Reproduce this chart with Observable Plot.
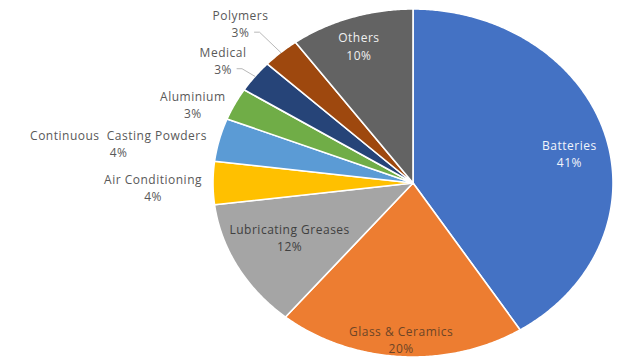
<!DOCTYPE html>
<html>
<head>
<meta charset="utf-8">
<script src="https://cdn.jsdelivr.net/npm/d3@7"></script>
<script src="https://cdn.jsdelivr.net/npm/@observablehq/plot@0.6"></script>
<style>
  html, body { margin: 0; padding: 0; background: #fff; }
  #chart svg { display: block; }
  #chart text { letter-spacing: 0.5px; }
</style>
</head>
<body>
<div id="chart"></div>
<script>
// ---- data ----
const categories = ["Batteries", "Glass & Ceramics", "Lubricating Greases", "Air Conditioning",
  "Continuous  Casting Powders", "Aluminium", "Medical", "Polymers", "Others"];
const shares = [41, 20, 12, 4, 4, 3, 3, 3, 10];
const shareLabels = ["41%", "20%", "12%", "4%", "4%", "3%", "3%", "3%", "10%"];

// ---- style / layout ----
const colors = ["#4472C4", "#ED7D31", "#A5A5A5", "#FFC000", "#5B9BD5", "#70AD47", "#264478", "#9E480E", "#636363"];
const labelColors = ["#f2f5fb", "#6e4526", "#404040", "#595959", "#595959", "#595959", "#595959", "#595959", "#f0f0f0"];
const labelRadius = [0.80, 0.90, 0.69, 1.30, 1.49, 1.19, 1.185, 1.26, 0.835];
const labelShift = [1.1, 0.05, 0.6, -0.3, -1.55, -1.3, -0.3, -0.5, -0.25]; // in percent of the circle
const hasLeader = [false, false, false, false, false, false, true, true, false];

const total = d3.sum(shares);
const TAU = 2 * Math.PI;
const pt = (frac, r) => ({x: r * Math.sin(frac * TAU), y: r * Math.cos(frac * TAU)});

let cum = 0;
const slices = shares.map((v, i) => {
  const a0 = cum / total, a1 = (cum + v) / total;
  cum += v;
  const n = Math.max(2, Math.ceil((a1 - a0) * 720));
  const pts = [{x: 0, y: 0}];
  for (let k = 0; k <= n; k++) pts.push(pt(a0 + (a1 - a0) * k / n, 1));
  pts.push({x: 0, y: 0});
  const mid = (a0 + a1) / 2;
  const lp = pt(mid + labelShift[i] / 100, labelRadius[i]);
  return {i, a0, a1, mid, pts, label: categories[i] + "\n" + shareLabels[i], lx: lp.x, ly: lp.y};
});

// leader lines (unit coords: 1 x-unit = 200px, 1 y-unit = 174px)
const leaders = slices.filter(s => hasLeader[s.i]).map(s => {
  const sx = s.lx + 14 / 200, sy = s.ly - 9 / 174;
  const edge = pt(s.mid, 1.0);
  return [{x: sx, y: sy}, {x: sx + 5 / 200, y: sy}, {x: edge.x, y: edge.y}];
});

const cx = 412.5, cy = 182.5, rx = 200, ry = 174;

const marks = [
  ...slices.map(s => Plot.line(s.pts, {x: "x", y: "y", fill: colors[s.i], stroke: "white", strokeWidth: 1.6, strokeLinejoin: "round"})),
  ...leaders.map(l => Plot.line(l, {x: "x", y: "y", stroke: "#a6a6a6", strokeWidth: 0.8})),
  Plot.text(slices, {x: "lx", y: "ly", text: "label", fill: d => labelColors[d.i], fontSize: 12, lineHeight: 1.42, textAnchor: "middle"})
];

const chart = Plot.plot({
  width: 623,
  height: 359,
  margin: 0,
  style: {fontFamily: "'Open Sans', sans-serif", background: "white"},
  x: {domain: [-1, 1], range: [cx - rx, cx + rx], axis: null},
  y: {domain: [-1, 1], range: [cy + ry, cy - ry], axis: null},
  marks
});
document.getElementById("chart").appendChild(chart);
</script>
</body>
</html>
